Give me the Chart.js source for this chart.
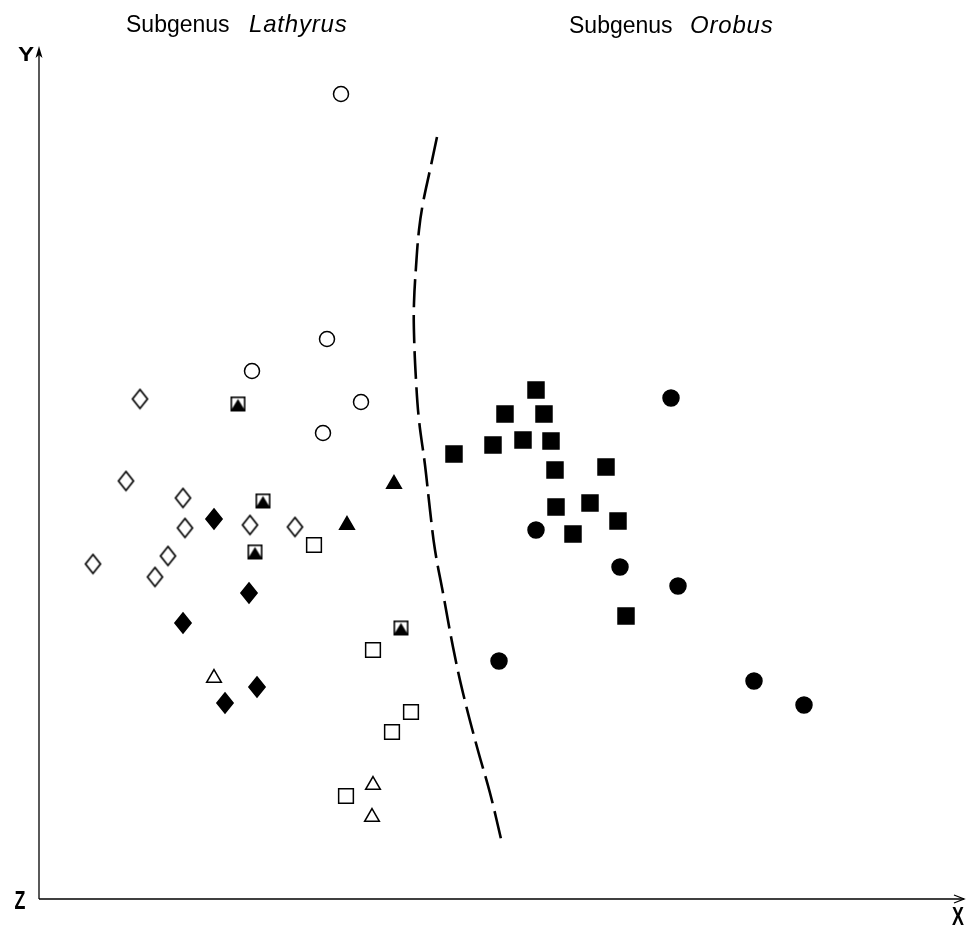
<!DOCTYPE html>
<html>
<head>
<meta charset="utf-8">
<script src="https://cdn.jsdelivr.net/npm/chart.js@4.4.1/dist/chart.umd.min.js"></script>
<style>
  html, body { margin: 0; padding: 0; background: #ffffff; }
  #wrap { position: relative; width: 967px; height: 928px; }
</style>
</head>
<body>
<div id="wrap"><canvas id="c" width="967" height="928"></canvas></div>
<script>
// ---- Data (ordination scores; X horizontal, Y vertical) ----
const openCircles = [[302,805],[288,560],[213,528],[322,497],[284,466]];
const openDiamonds = [[101,500],[87,418],[144,401],[146,371],[211,374],[256,372],[129,343],[116,322],[54,335]];
const filledDiamonds = [[175,380],[210,306],[144,276],[186,196],[218,212]];
const boxedTriangles = [[199,495],[224,398],[216,347],[362,271]];
const filledTriangles = [[308,374],[355,415]];
const openSquares = [[275,354],[334,249],[372,187],[353,167],[307,103]];
const openTriangles = [[175,221],[334,114],[333,82]];
const filledSquares = [[497,509],[466,485],[505,485],[415,445],[454,454],[484,459],[512,458],[516,429],[567,432],[517,392],[551,396],[579,378],[534,365],[587,283]];
const filledCircles = [[632,501],[497,369],[581,332],[639,313],[460,238],[715,218],[765,194]];
const boundaryCurve = [[398,762],[391,729],[384,696],[380,669],[377,632],[375,596],[375,566],[377,519],[380,479],[386,434],[391,389],[396,349],[404,306],[414,252],[424,206],[438,152],[451,106],[463,56]];
const axisLabels = { x: 'X', y: 'Y', origin: 'Z' };
const groupTitles = [['Subgenus', 'Lathyrus'], ['Subgenus', 'Orobus']];

const pts = a => a.map(p => ({x: p[0], y: p[1]}));

function makeDiamond(w, h, filled) {
  const c = document.createElement('canvas');
  c.width = w + 4; c.height = h + 4;
  const g = c.getContext('2d');
  g.beginPath();
  g.moveTo(c.width/2, 2); g.lineTo(c.width-2, c.height/2);
  g.lineTo(c.width/2, c.height-2); g.lineTo(2, c.height/2); g.closePath();
  g.lineWidth = 1.7; g.strokeStyle = '#000'; g.lineJoin = 'miter';
  if (filled) { g.fillStyle = '#000'; g.fill(); }
  g.stroke();
  return c;
}
function makeBoxedTriangle(s) {
  const c = document.createElement('canvas');
  c.width = s + 2; c.height = s + 2;
  const g = c.getContext('2d');
  g.fillStyle = '#000';
  g.beginPath();
  g.moveTo(1.5, s); g.lineTo(s/2 + 1, 3.5); g.lineTo(s + 0.5, s); g.closePath(); g.fill();
  g.fillRect(1, s - 1.5, s, 2.5);
  g.lineWidth = 1.6; g.strokeStyle = '#000';
  g.strokeRect(1.8, 1.8, s - 1.6, s - 1.6);
  return c;
}

const openDiamondImg = makeDiamond(15, 19, false);
const filledDiamondImg = makeDiamond(16, 20, true);
const boxedTriImg = makeBoxedTriangle(15);

const common = { showLine: false, clip: false, borderColor: '#000', pointBorderWidth: 1.5 };

function condensedText(ctx, text, x, y, sx, sy) {
  ctx.save();
  ctx.translate(x, y);
  ctx.scale(sx, sy);
  ctx.fillText(text, 0, 0);
  ctx.restore();
}

const arrowAxes = {
  id: 'arrowAxes',
  afterDraw(chart) {
    const {ctx, chartArea: a} = chart;
    ctx.save();
    ctx.strokeStyle = '#000'; ctx.fillStyle = '#000'; ctx.lineWidth = 1.3;
    // Y axis
    ctx.beginPath(); ctx.moveTo(a.left, a.bottom); ctx.lineTo(a.left, a.top + 20); ctx.stroke();
    ctx.beginPath(); ctx.moveTo(a.left, a.top + 16); ctx.lineTo(a.left - 3.5, a.top + 28); ctx.lineTo(a.left, a.top + 25); ctx.lineTo(a.left + 3.5, a.top + 28); ctx.closePath(); ctx.fill();
    // X axis
    ctx.beginPath(); ctx.moveTo(a.left, a.bottom); ctx.lineTo(a.right, a.bottom); ctx.stroke();
    ctx.beginPath(); ctx.moveTo(a.right - 10, a.bottom - 4); ctx.lineTo(a.right, a.bottom); ctx.lineTo(a.right - 10, a.bottom + 4); ctx.stroke();
    // Axis letters (bold, condensed)
    ctx.font = 'bold 21px "Liberation Sans", Arial, sans-serif';
    ctx.textAlign = 'center'; ctx.textBaseline = 'alphabetic';
    condensedText(ctx, axisLabels.y, 26, 61, 1.15, 1.0);
    condensedText(ctx, axisLabels.origin, 20, 909, 0.85, 1.2);
    condensedText(ctx, axisLabels.x, 958, 925, 0.85, 1.2);
    // Group titles
    ctx.textAlign = 'left';
    const pos = [[126, 249, 32], [569, 690, 33]];
    groupTitles.forEach((t, i) => {
      ctx.font = '23px "Liberation Sans", Arial, sans-serif';
      ctx.fillText(t[0], pos[i][0], pos[i][2]);
      ctx.font = 'italic 24px "Liberation Sans", Arial, sans-serif';
      ctx.letterSpacing = '0.8px';
      ctx.fillText(t[1], pos[i][1], pos[i][2]);
      ctx.letterSpacing = '0px';
    });
    ctx.restore();
  }
};

new Chart(document.getElementById('c'), {
  type: 'scatter',
  data: {
    datasets: [
      { ...common, label: 'boundary', data: pts(boundaryCurve), showLine: true, pointRadius: 0, borderWidth: 2.6, borderDash: [28, 8], tension: 0.4, fill: false },
      { ...common, label: 'open circles', data: pts(openCircles), pointStyle: 'circle', pointRadius: 7.5, backgroundColor: 'rgba(0,0,0,0)' },
      { ...common, label: 'open diamonds', data: pts(openDiamonds), pointStyle: openDiamondImg },
      { ...common, label: 'filled diamonds', data: pts(filledDiamonds), pointStyle: filledDiamondImg },
      { ...common, label: 'boxed triangles', data: pts(boxedTriangles), pointStyle: boxedTriImg },
      { ...common, label: 'filled triangles', data: pts(filledTriangles), pointStyle: 'triangle', pointRadius: 8.5, backgroundColor: '#000' },
      { ...common, label: 'open squares', data: pts(openSquares), pointStyle: 'rect', pointRadius: 10.4, backgroundColor: 'rgba(0,0,0,0)' },
      { ...common, label: 'open triangles', data: pts(openTriangles), pointStyle: 'triangle', pointRadius: 8.5, backgroundColor: 'rgba(0,0,0,0)' },
      { ...common, label: 'filled squares', data: pts(filledSquares), pointStyle: 'rect', pointRadius: 11.3, backgroundColor: '#000' },
      { ...common, label: 'filled circles', data: pts(filledCircles), pointStyle: 'circle', pointRadius: 8, backgroundColor: '#000' }
    ]
  },
  options: {
    responsive: false,
    animation: false,
    layout: { autoPadding: false, padding: { left: 39, right: 3, top: 30, bottom: 29 } },
    scales: {
      x: { type: 'linear', min: 0, max: 925, display: false },
      y: { type: 'linear', min: 0, max: 869, display: false }
    },
    plugins: { legend: { display: false }, tooltip: { enabled: false } },
    elements: { point: { hoverRadius: 0 } }
  },
  plugins: [arrowAxes]
});
</script>
</body>
</html>
